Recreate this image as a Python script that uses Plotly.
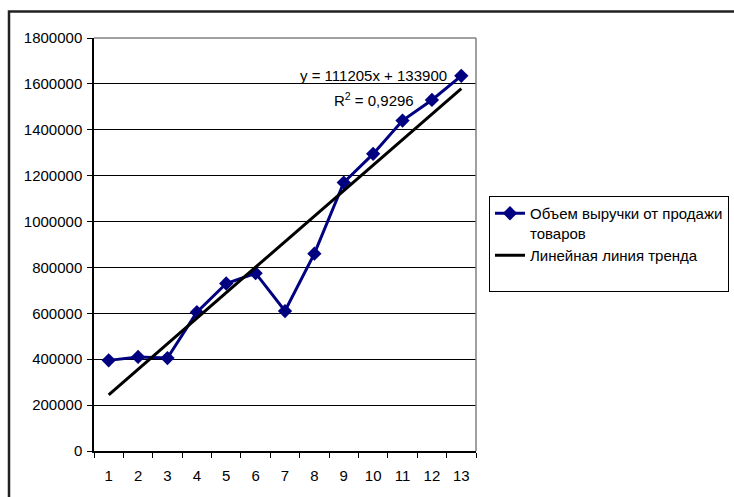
import plotly.graph_objects as go

# Period numbers and revenue per period
periods = [str(i) for i in range(1, 14)]
revenue = [395000, 410000, 405000, 605000, 730000, 775000, 610000,
           860000, 1170000, 1295000, 1440000, 1530000, 1635000]

# Linear trend coefficients and fit quality
trend_slope = 111205
trend_intercept = 133900
r_squared = "0,9296"

y_ticks = list(range(0, 1800001, 200000))

trend = [trend_slope * (i + 1) + trend_intercept for i in range(len(periods))]

FONT = "Arial, Liberation Sans, sans-serif"

fig = go.Figure()
fig.add_trace(go.Scatter(
    x=periods, y=revenue, mode="lines+markers",
    name="Объем выручки от продажи<br>товаров",
    line=dict(color="#000080", width=3),
    marker=dict(symbol="diamond", size=11, color="#000080"),
))
fig.add_trace(go.Scatter(
    x=periods, y=trend, mode="lines",
    name="Линейная линия тренда<br> ",
    line=dict(color="#000000", width=3),
))

fig.update_xaxes(
    type="category", tickson="boundaries", range=[-0.5, 12.5],
    ticks="outside", ticklen=5, tickcolor="#000", tickwidth=1,
    showline=True, linecolor="#000", linewidth=1.5,
    showgrid=False, tickfont=dict(family=FONT, size=15, color="#000"),
    ticklabelstandoff=10,
)
fig.update_yaxes(
    range=[0, 1800000], tickvals=y_ticks, ticktext=[str(v) for v in y_ticks],
    ticks="outside", ticklen=5, tickcolor="#000", tickwidth=1,
    showline=True, linecolor="#000", linewidth=1.5,
    showgrid=True, gridcolor="#000", gridwidth=1, zeroline=False,
    tickfont=dict(family=FONT, size=15, color="#000"),
    ticklabelstandoff=2,
)

shapes = [
    # grey frame around the plot area (top and right)
    dict(type="line", xref="paper", yref="paper", x0=0, x1=1, y0=1, y1=1,
         line=dict(color="#808080", width=1.5)),
    dict(type="line", xref="paper", yref="paper", x0=1, x1=1, y0=0, y1=1,
         line=dict(color="#808080", width=1.5)),
    # outer chart frame
    dict(type="rect", xref="paper", yref="paper",
         x0=(9 - 94) / 382, x1=2.0, y0=-0.5, y1=(451 - 11) / 413.5,
         line=dict(color="#222", width=2.5), layer="below"),
]

annotations = [
    dict(text="y = 111205x + 133900", xref="paper", yref="paper",
         x=(373 - 94) / 382, y=(451 - 75) / 413.5, showarrow=False,
         xanchor="center", yanchor="middle",
         font=dict(family=FONT, size=15, color="#000")),
    dict(text="R<sup>2</sup> = " + r_squared, xref="paper", yref="paper",
         x=(374 - 94) / 382, y=(451 - 99) / 413.5, showarrow=False,
         xanchor="center", yanchor="middle",
         font=dict(family=FONT, size=15, color="#000")),
]

fig.update_layout(
    width=734, height=497,
    margin=dict(l=94, r=258, t=37.5, b=46, autoexpand=False),
    plot_bgcolor="#fff", paper_bgcolor="#fff",
    showlegend=True,
    legend=dict(
        xref="container", yref="container", x=489 / 734, y=1 - 196 / 497,
        xanchor="left", yanchor="top", valign="top",
        bordercolor="#000", borderwidth=1, bgcolor="#fff",
        font=dict(family=FONT, size=15, color="#000"),
        tracegroupgap=6, entrywidth=215, entrywidthmode="pixels",
    ),
    shapes=shapes, annotations=annotations,
)

fig.write_html("out.html")
